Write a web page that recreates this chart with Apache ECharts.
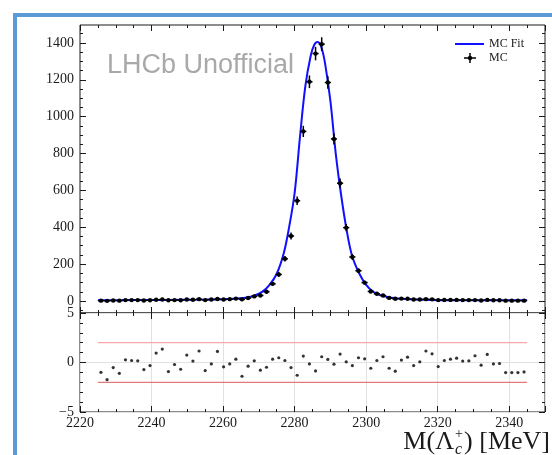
<!DOCTYPE html>
<html>
<head>
<meta charset="utf-8">
<script src="https://cdn.jsdelivr.net/npm/echarts@6/dist/echarts.min.js"></script>
<style>
  html, body { margin: 0; padding: 0; background: #fff; }
  #wrap { position: relative; width: 552px; height: 455px; overflow: hidden; }
  #edge { position: absolute; left: 13px; top: 13px; width: 560px; height: 460px;
          border-left: 4px solid #5b9bd5; border-top: 4px solid #5b9bd5; }
  #chart { position: absolute; left: 0; top: 0; width: 552px; height: 455px; }
</style>
</head>
<body>
<div id="wrap">
  <div id="edge"></div>
  <div id="chart"></div>
</div>
<script>
// Histogram binning of the Lambda_c+ mass spectrum
const binLow = 2225;
const binHigh = 2345;

// MC event counts per bin (70 bins)
const counts = [
  2, 1, 3, 2, 5, 5, 5, 3, 4, 7,
  8, 4, 5, 4, 8, 7, 10, 5, 8, 11,
  8, 10, 13, 9, 16, 25, 30, 50, 93, 144,
  229, 353, 544, 920, 1189, 1342, 1393, 1185, 879, 639,
  398, 239, 164, 100, 52, 39, 30, 17, 12, 13,
  12, 8, 8, 10, 9, 5, 6, 6, 6, 5,
  5, 5, 3, 6, 4, 4, 2, 2, 2, 2
];

// Pull (data - fit) / sigma per bin
const pulls = [
  -0.99, -1.73, -0.51, -1.09, 0.27, 0.20, 0.17, -0.71, -0.31, 0.95,
  1.36, -0.92, -0.20, -0.68, 0.75, 0.14, 1.16, -0.82, -0.14, 1.12,
  -0.44, -0.14, 0.34, -1.39, -0.37, 0.17, -0.78, -0.48, 0.34, 0.48,
  0.20, -0.51, -1.29, 0.65, -0.14, -0.85, 0.58, 0.31, -0.17, 0.85,
  0.07, -0.31, 0.48, 0.37, -0.58, 0.20, 0.58, -0.58, -0.88, 0.24,
  0.54, -0.31, 0.07, 1.16, 0.88, -0.41, 0.20, 0.34, 0.44, 0.14,
  0.17, 0.68, -0.27, 0.82, -0.14, -0.10, -1.02, -1.02, -1.02, -0.95
];

// Fitted model curve (mass in MeV, expected counts)
const fitX = [2225, 2235, 2245, 2255, 2260, 2264, 2267, 2269, 2271, 2273,
              2275, 2277, 2278.5, 2280, 2281.5, 2283, 2284.5, 2285.5, 2286.5, 2287.5,
              2288.5, 2290, 2291.5, 2293, 2294.5, 2296, 2298, 2300, 2302, 2304,
              2307, 2311, 2318, 2330, 2345];
const fitY = [4, 5, 6, 8, 10, 13.5, 20, 31, 51, 88,
              148, 262, 405, 585, 890, 1165, 1330, 1390, 1405, 1375,
              1290, 1085, 800, 575, 390, 250, 152, 88, 50, 31,
              18, 11, 6, 4, 4];

// Axis ticks
const countTicks = [0, 200, 400, 600, 800, 1000, 1200, 1400];
const countMinorTicks = [-50, 50, 100, 150, 250, 300, 350, 450, 500, 550, 650, 700, 750,
                         850, 900, 950, 1050, 1100, 1150, 1250, 1300, 1350, 1450];
const pullBand = 2;

const serif = '"Liberation Serif", "DejaVu Serif", serif';
const nb = counts.length;
const bw = (binHigh - binLow) / nb;
const mcData = counts.map((n, i) => [binLow + (i + 0.5) * bw, n, Math.sqrt(n), bw / 2]);
const pullData = pulls.map((p, i) => [binLow + (i + 0.5) * bw, p]);
const fitData = fitX.map((x, i) => [x, fitY[i]]);

const chart = echarts.init(document.getElementById('chart'), null, { renderer: 'canvas' });

const frame = { show: true, borderColor: '#1a1a1a', borderWidth: 1, backgroundColor: 'transparent' };
const tickStyle = { color: '#1a1a1a', width: 1 };
const labelFont = { color: '#1a1a1a', fontFamily: serif, fontSize: 14 };

function xAx(grid, pos, mode) {
  // mode: 'full' ticks only, 'label' ticks + labels + grid lines, 'none' hidden
  const show = mode !== 'none';
  return {
    type: 'value', gridIndex: grid, position: pos, min: 2220, max: 2350, interval: 20,
    axisLine: { show: false, onZero: false },
    axisTick: { show: show, inside: true, length: 6, lineStyle: tickStyle },
    minorTick: { show: show, splitNumber: 4, length: 3, lineStyle: tickStyle },
    axisLabel: mode === 'label'
      ? Object.assign({ show: true, margin: 4, showMaxLabel: false, formatter: v => String(v) }, labelFont)
      : { show: false },
    splitLine: mode === 'label' ? { show: true, lineStyle: { color: '#e2e2e2', width: 1 } } : { show: false },
    minorSplitLine: { show: false }
  };
}

function yCount(grid, pos, values, len, labels) {
  return {
    type: 'value', gridIndex: grid, position: pos, min: -65, max: 1497,
    axisLine: { show: false, onZero: false },
    axisTick: { show: true, inside: true, length: len, lineStyle: tickStyle, customValues: values },
    axisLabel: labels
      ? Object.assign({ show: true, customValues: values, margin: 6, formatter: v => String(v) }, labelFont)
      : { show: false },
    splitLine: { show: false }
  };
}

function yPull(pos, labels) {
  return {
    type: 'value', gridIndex: 1, position: pos, min: -5, max: 5, interval: 5,
    axisLine: { show: false, onZero: false },
    axisTick: { show: true, inside: true, length: 6, lineStyle: tickStyle },
    minorTick: { show: true, splitNumber: 5, length: 3, lineStyle: tickStyle },
    axisLabel: labels ? Object.assign({
      show: true, margin: 6, showMinLabel: true, showMaxLabel: true,
      formatter: v => String(v).replace('-', '\u2212')
    }, labelFont) : { show: false },
    splitLine: labels ? { show: true, lineStyle: { color: '#e2e2e2', width: 1 } } : { show: false }
  };
}

// Axis title pieces laid out from measured text widths
const ctx = document.createElement('canvas').getContext('2d');
function tw(txt, font) { ctx.font = font; return ctx.measureText(txt).width; }
const titleSize = 26;
const subSize = 16;
const tMain = 'M(\u039B';
const tTail = ') [MeV]';
const wMain = tw(tMain, titleSize + 'px ' + serif);
const wSub = tw('c', 'italic ' + subSize + 'px ' + serif);
const wTail = tw(tTail, titleSize + 'px ' + serif);
const titleRight = 550;
const titleX = titleRight - (wMain + wSub + 3 + wTail);
const titleY = 442;

const upperRect = { left: 80, right: 7, top: 25, height: 288 };

const option = {
  animation: false,
  backgroundColor: 'transparent',
  grid: [
    Object.assign({}, upperRect, frame),
    Object.assign({ left: 80, right: 7, top: 313, height: 99 }, frame),
    // overlay grid carrying the minor ticks of the count axis
    Object.assign({}, upperRect, { show: false })
  ],
  xAxis: [
    xAx(0, 'bottom', 'full'), xAx(0, 'top', 'full'),
    xAx(1, 'bottom', 'label'), xAx(1, 'top', 'full'),
    xAx(2, 'bottom', 'none')
  ],
  yAxis: [
    yCount(0, 'left', countTicks, 6, true),
    yCount(0, 'right', countTicks, 6, false),
    yPull('left', true),
    yPull('right', false),
    yCount(2, 'left', countMinorTicks, 3, false),
    yCount(2, 'right', countMinorTicks, 3, false)
  ],
  series: [
    {
      name: 'MC Fit', type: 'line', xAxisIndex: 0, yAxisIndex: 0,
      data: fitData, smooth: 0.35, showSymbol: false, z: 3,
      lineStyle: { color: '#1010ff', width: 2 }
    },
    {
      name: 'MC', type: 'custom', xAxisIndex: 0, yAxisIndex: 0, z: 4,
      data: mcData, encode: { x: 0, y: 1 }, clip: true,
      renderItem: function (params, api) {
        const x = api.value(0), y = api.value(1), e = api.value(2), hw = api.value(3);
        const c = api.coord([x, y]);
        const t = api.coord([x, y + e]);
        const b = api.coord([x, y - e]);
        const l = api.coord([x - hw, y]);
        const r = api.coord([x + hw, y]);
        return {
          type: 'group', children: [
            { type: 'line', shape: { x1: c[0], y1: t[1], x2: c[0], y2: b[1] },
              style: { stroke: '#000', lineWidth: 1.5 } },
            { type: 'line', shape: { x1: l[0], y1: c[1], x2: r[0], y2: c[1] },
              style: { stroke: '#000', lineWidth: 1.5 } },
            { type: 'circle', shape: { cx: c[0], cy: c[1], r: 2.2 }, style: { fill: '#000' } }
          ]
        };
      }
    },
    {
      name: 'band+', type: 'line', xAxisIndex: 2, yAxisIndex: 2, showSymbol: false,
      data: [[binLow, pullBand], [binHigh, pullBand]],
      lineStyle: { color: '#f7a9a9', width: 1.2 }, z: 2
    },
    {
      name: 'band-', type: 'line', xAxisIndex: 2, yAxisIndex: 2, showSymbol: false,
      data: [[binLow, -pullBand], [binHigh, -pullBand]],
      lineStyle: { color: '#e07a7a', width: 1.2 }, z: 2
    },
    {
      name: 'pull', type: 'scatter', xAxisIndex: 2, yAxisIndex: 2,
      data: pullData, symbol: 'circle', symbolSize: 3.2,
      itemStyle: { color: '#000' }, z: 4
    }
  ],
  graphic: [
    { type: 'text', left: 107, top: 52, z: 10,
      style: { text: 'LHCb Unofficial', fill: '#a9a9a9',
               font: '27px "Liberation Sans", Arial, sans-serif' } },
    // legend
    { type: 'line', shape: { x1: 455, y1: 44, x2: 484, y2: 44 }, z: 10,
      style: { stroke: '#1010ff', lineWidth: 2 } },
    { type: 'text', x: 489, y: 44, z: 10,
      style: { text: 'MC Fit', fill: '#1a1a1a', font: '12px ' + serif, verticalAlign: 'middle' } },
    { type: 'line', shape: { x1: 464, y1: 58, x2: 476, y2: 58 }, z: 10,
      style: { stroke: '#000', lineWidth: 1.5 } },
    { type: 'line', shape: { x1: 470, y1: 53, x2: 470, y2: 63 }, z: 10,
      style: { stroke: '#000', lineWidth: 1.5 } },
    { type: 'circle', shape: { cx: 470, cy: 58, r: 2.2 }, z: 10, style: { fill: '#000' } },
    { type: 'text', x: 489, y: 58, z: 10,
      style: { text: 'MC', fill: '#1a1a1a', font: '12px ' + serif, verticalAlign: 'middle' } },
    // x-axis title M(Λc+) [MeV]
    { type: 'text', x: titleX, y: titleY, z: 10,
      style: { text: tMain, fill: '#1a1a1a', font: titleSize + 'px ' + serif, verticalAlign: 'middle' } },
    { type: 'text', x: titleX + wMain + 1, y: titleY + 8, z: 10,
      style: { text: 'c', fill: '#1a1a1a', font: 'italic ' + subSize + 'px ' + serif, verticalAlign: 'middle' } },
    { type: 'text', x: titleX + wMain + 1, y: titleY - 8, z: 10,
      style: { text: '+', fill: '#1a1a1a', font: '14px ' + serif, verticalAlign: 'middle' } },
    { type: 'text', x: titleX + wMain + wSub + 3, y: titleY, z: 10,
      style: { text: tTail, fill: '#1a1a1a', font: titleSize + 'px ' + serif, verticalAlign: 'middle' } }
  ]
};

chart.setOption(option);
</script>
</body>
</html>
